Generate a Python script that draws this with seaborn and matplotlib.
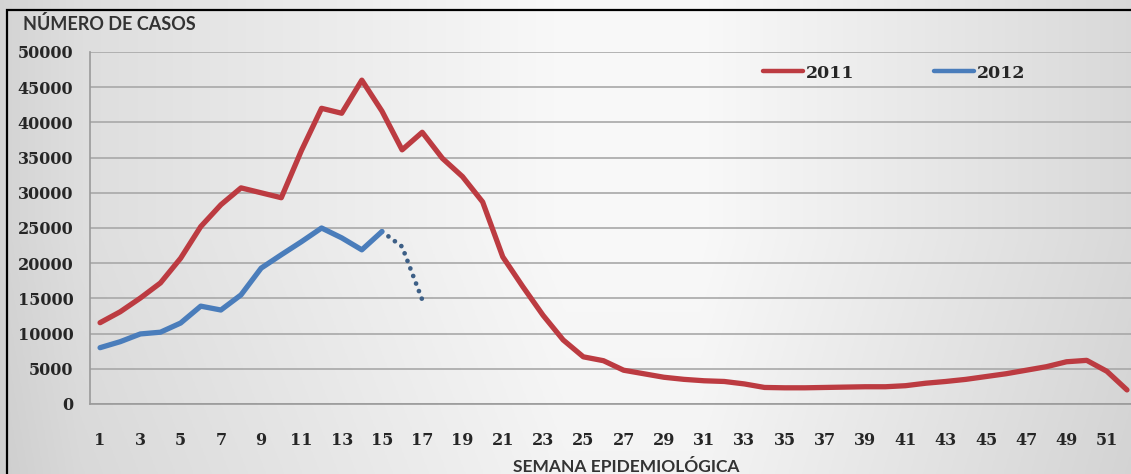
import numpy as np
import pandas as pd
import matplotlib
matplotlib.use("Agg")
import matplotlib.pyplot as plt
from matplotlib.patches import Rectangle
import seaborn as sns

# ---- data ----
weeks_2011 = list(range(1, 53))
cases_2011 = [11550, 13100, 15050, 17200, 20700, 25200, 28300, 30700, 30000, 29300,
              36000, 42000, 41300, 46000, 41600, 36100, 38600, 34900, 32300, 28700,
              20900, 16650, 12600, 9100, 6700, 6150, 4800, 4300, 3800, 3500,
              3300, 3200, 2850, 2350, 2300, 2300, 2350, 2400, 2450, 2450,
              2600, 2950, 3200, 3500, 3900, 4300, 4800, 5300, 6000, 6200,
              4650, 2000]
weeks_2012 = list(range(1, 16))
cases_2012 = [8000, 8850, 9950, 10200, 11500, 13900, 13350, 15500, 19300, 21200,
              23050, 25000, 23600, 21900, 24500]
weeks_2012_trend = [15, 16, 17]
cases_2012_trend = [24500, 22350, 14800]
series_labels = ["2011", "2012"]
y_ticks = list(range(0, 50001, 5000))
x_ticks = list(range(1, 52, 2))
y_title = "NÚMERO DE CASOS"
x_title = "SEMANA EPIDEMIOLÓGICA"

RED = "#BC3B41"
BLUE = "#4A7DBB"
DOT = "#3D5F86"

sns.set_theme(style="white")
plt.rcParams['font.family'] = ['DejaVu Serif', 'DejaVu Sans']
plt.rcParams['xtick.major.pad'] = 20
plt.rcParams['ytick.major.pad'] = 12
plt.rcParams['xtick.major.size'] = 0
plt.rcParams['ytick.major.size'] = 0

W, H = 1131, 474
fig = plt.figure(figsize=(W / 100, H / 100), dpi=100)

# background gradient
bg = fig.add_axes([0, 0, 1, 1], zorder=-10)
xs = np.linspace(0, 1, 400)
ys = np.linspace(0, 1, 200)
X, Y = np.meshgrid(xs, ys)
horiz = np.interp(X, [0, 0.07, 0.5, 0.62, 1.0], [0.83, 0.87, 0.975, 0.975, 0.85])
vert = np.interp(Y, [0, 0.5, 1.0], [-0.02, 0.0, 0.0])
img = np.clip(horiz + vert, 0, 1)
bg.imshow(np.dstack([img, img, img]), aspect='auto', extent=[0, 1, 0, 1], origin='lower')
bg.set_axis_off()

# black frame (top & left only; right/bottom lie outside the picture)
fig.add_artist(Rectangle((7 / W, -0.5), 5.0, (H - 10) / H + 0.5, transform=fig.transFigure,
                         fill=False, edgecolor='black', linewidth=1.6))

ax = fig.add_axes([90 / W, (H - 404) / H, (W - 90) / W, (404 - 52) / H])
ax.patch.set_alpha(0)

df11 = pd.DataFrame({"week": weeks_2011, "cases": cases_2011})
df12 = pd.DataFrame({"week": weeks_2012, "cases": cases_2012})
df12t = pd.DataFrame({"week": weeks_2012_trend, "cases": cases_2012_trend})

sns.lineplot(data=df11, x="week", y="cases", ax=ax, color=RED, linewidth=3.8,
             label=series_labels[0], solid_joinstyle='round', solid_capstyle='round', zorder=5)
sns.lineplot(data=df12, x="week", y="cases", ax=ax, color=BLUE, linewidth=3.8,
             label=series_labels[1], solid_joinstyle='round', solid_capstyle='round', zorder=5)
sns.lineplot(data=df12t, x="week", y="cases", ax=ax, color=DOT, linewidth=3.4,
             linestyle=(0, (0.01, 1.7)), dash_capstyle='round', label='_nolegend_', zorder=4)

ax.set_xlim(0.5, 52.2)
ax.set_ylim(0, 50000)
ax.set_xticks(x_ticks)
ax.set_yticks(y_ticks)
ax.set_xticklabels([str(t) for t in x_ticks], fontweight='bold', fontsize=11.5, color='#262626')
ax.set_yticklabels([str(t) for t in y_ticks], fontweight='bold', fontsize=11.5, color='#262626')
ax.tick_params(axis='both', length=0)
ax.tick_params(axis='y', pad=12)
ax.tick_params(axis='x', pad=20)
ax.set_xlabel("")
ax.set_ylabel("")
ax.grid(axis='y', color='#A8A8A8', linewidth=1.2)
ax.grid(axis='x', visible=False)
for s in ['top', 'right']:
    ax.spines[s].set_visible(False)
ax.spines['left'].set_color('#9A9A9A')
ax.spines['bottom'].set_color('#9A9A9A')
ax.spines['left'].set_linewidth(1.2)
ax.spines['bottom'].set_linewidth(1.2)

leg = ax.legend(loc='center left', bbox_to_anchor=((763 - 90) / (W - 90), (404 - 73) / (404 - 52)),
                ncol=2, frameon=False, handlelength=2.3, handletextpad=0.15, columnspacing=4.6,
                prop={'family': 'DejaVu Serif', 'weight': 'bold', 'size': 12.5}, borderaxespad=0,
                borderpad=0)
for h in leg.get_lines():
    h.set_linewidth(3.2)
for t in leg.get_texts():
    t.set_color('#262626')

fig.text(23 / W, 1 - 30 / H, y_title, family=['Lato', 'DejaVu Sans'], fontweight='bold',
         fontsize=13, color='#333333', va='baseline', ha='left')
fig.text(626 / W, 1 - 459 / H, x_title, family=['Lato', 'DejaVu Sans'], fontweight='bold',
         fontsize=12.5, color='#333333', va='top', ha='center')

fig.savefig("out.png", dpi=100)
